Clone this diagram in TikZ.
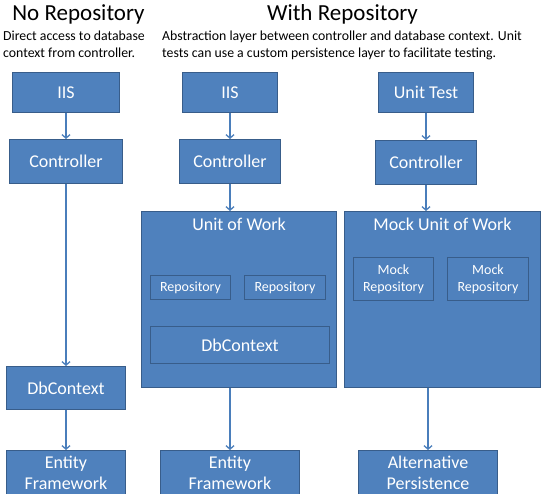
\documentclass[tikz,border=0pt]{standalone}
\usepackage{fontspec}
\setmainfont{Carlito}
\usepackage{tikz}
\definecolor{box_fill}{HTML}{4F81BD}
\definecolor{box_line}{HTML}{385D8A}
\definecolor{arrow_line}{HTML}{4A7EBB}
\tikzset{
  head_font/.style = {font=\fontsize{23}{26}\selectfont},
  note_font/.style = {font=\fontsize{13.8}{17}\selectfont},
  big_font/.style = {font=\fontsize{18}{21}\selectfont},
  small_font/.style = {font=\fontsize{14}{17}\selectfont}
}
\tikzset{
  heading/.style = {head_font, anchor=base, inner sep=0},
  note/.style = {note_font, align=left, anchor=north west, inner sep=0},
  block/.style = {big_font, align=center, anchor=north west, inner sep=0,
    draw=box_line, fill=box_fill, text=white, line width=1pt},
  sub_block/.style = {block, small_font},
  group/.style = {block, label={[group_title]north:#1}},
  group_title/.style = {big_font, text=white, inner sep=0, anchor=north, yshift=-7pt},
  flow/.style = {draw=arrow_line, line width=1.3pt,
    -{Straight Barb[length=3.5pt, width=8pt]}}
}
\usetikzlibrary{positioning, calc, arrows.meta}

\begin{document}
\begin{tikzpicture}[x=1pt, y=-1pt]
    \useasboundingbox (0,0) rectangle (543,493);
    \clip (0,0) rectangle (543,493);

    % Headings
    \node[heading] at (78.5,20) (no_title) {No Repository};
    \node[heading] at (342.5,20) (with_title) {With Repository};
    \node[note] at (3,31) (no_note) {
        Direct access to database\\
        context from controller.};
    \node[note] at (162,31) (with_note) {
        Abstraction layer between controller and database context. Unit\\
        tests can use a custom persistence layer to facilitate testing.};

    % No repository
    \node[block, minimum width=107, minimum height=40] at (12,72) (iis_a) {IIS};
    \node[block, minimum width=113, minimum height=44] at (9,139) (ctrl_a) {Controller};
    \node[block, minimum width=119, minimum height=43] at (6,366) (db_a) {DbContext};
    \node[block, minimum width=119, minimum height=45] at (6,450) (ef_a) {Entity\\Framework};

    % With repository
    \node[block, minimum width=95, minimum height=40] at (182,72) (iis_b) {IIS};
    \node[block, minimum width=101, minimum height=44] at (179,139) (ctrl_b) {Controller};
    \node[group=Unit of Work, minimum width=195, minimum height=176] at (141,211) (uow) {};
    \node[sub_block, minimum width=80, minimum height=24] at (150,275) (repo_1) {Repository};
    \node[sub_block, minimum width=81, minimum height=24] at (244,275) (repo_2) {Repository};
    \node[block, minimum width=179, minimum height=37] at (150,326) (db_b) {DbContext};
    \node[block, minimum width=139, minimum height=45] at (160,450) (ef_b) {Entity\\Framework};

    % Unit test
    \node[block, minimum width=95, minimum height=40] at (378,72) (test) {Unit Test};
    \node[block, minimum width=101, minimum height=44] at (375,140) (ctrl_c) {Controller};
    \node[group=Mock Unit of Work, minimum width=196, minimum height=176] at (344,211) (mock_uow) {};
    \node[sub_block, minimum width=80, minimum height=43] at (353,257) (mock_1) {Mock\\Repository};
    \node[sub_block, minimum width=81, minimum height=43] at (447,257) (mock_2) {Mock\\Repository};
    \node[block, minimum width=139, minimum height=45] at (358,450) (alt) {Alternative\\Persistence};

    % Arrows
    \draw[flow] (iis_a)--(ctrl_a);
    \draw[flow] (ctrl_a)--(db_a);
    \draw[flow] (db_a)--(ef_a);

    \draw[flow] (iis_b)--(ctrl_b);
    \draw[flow] (ctrl_b.south)--(ctrl_b.south |- uow.north);
    \draw[flow] (uow.south -| ef_b.north)--(ef_b.north);

    \draw[flow] (test)--(ctrl_c);
    \draw[flow] (ctrl_c.south)--(ctrl_c.south |- mock_uow.north);
    \draw[flow] (mock_uow.south -| alt.north)--(alt.north);
\end{tikzpicture}
\end{document}
